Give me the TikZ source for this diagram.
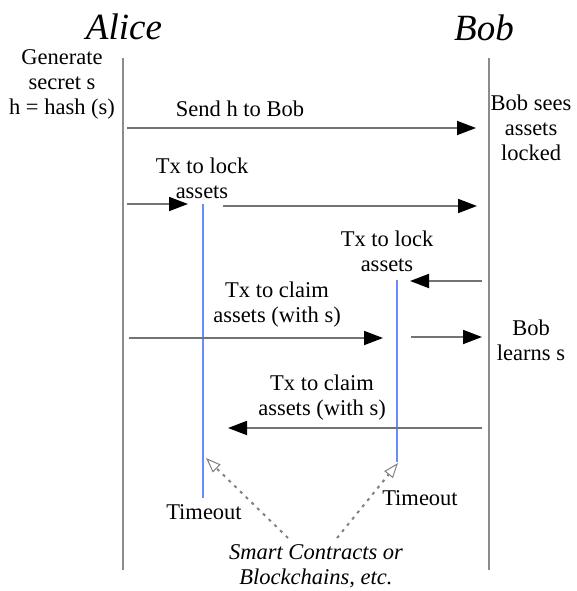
\documentclass[tikz,border=0pt]{standalone}
\usepackage{fontspec}
\setmainfont{Liberation Serif}
\usetikzlibrary{arrows.meta}
\definecolor{lockblue}{RGB}{105,140,250}
\begin{document}
\begin{tikzpicture}[x=1pt,y=-1pt,
 lbl/.style={font=\fontsize{22.5}{25}\selectfont, align=center, inner sep=0pt},
 ttl/.style={font=\fontsize{37}{40}\selectfont\itshape, inner sep=0pt},
 life/.style={draw=gray!90, line width=2.4pt},
 msg/.style={draw=gray!90!black, line width=1.8pt, -{Triangle[length=19pt,width=14pt,color=black]}},
 lockline/.style={draw=lockblue, line width=1.6pt},
 dots/.style={draw=gray, line width=2pt, dash pattern=on 3pt off 5pt, -{Triangle[open,length=15pt,width=11pt,line width=1pt]}}
]
\useasboundingbox (0,0) rectangle (576,591);
% titles
\node[ttl] (alice) at (124,27) {Alice};
\node[ttl] (bob) at (484,28) {Bob};
% lifelines
\coordinate (aTop) at (123,58);
\coordinate (aBot) at (123,570);
\coordinate (bTop) at (489,58);
\coordinate (bBot) at (489,570);
\draw[life] (aTop) -- (aBot);
\draw[life] (bTop) -- (bBot);
% side notes
\node[lbl] (gen) at (62,84) {Generate\\secret s\\h = hash (s)};
\node[lbl] (sees) at (531,128) {Bob sees\\assets\\locked};
\node[lbl] (learns) at (531,340) {Bob\\learns s};
% message 1
\coordinate (m1s) at (127,128);
\coordinate (m1e) at (476,128);
\draw[msg] (m1s) -- (m1e);
\node[lbl] (l1) at (240,109) {Send h to Bob};
% message 2
\coordinate (m2s) at (127,204);
\coordinate (m2m) at (188,204);
\coordinate (m2n) at (223,206);
\coordinate (m2e) at (477,206);
\draw[msg] (m2s) -- (m2m);
\draw[msg] (m2n) -- (m2e);
\node[lbl] (l2) at (202,178) {Tx to lock\\assets};
% locks (blue)
\coordinate (aLockT) at (203,204);
\coordinate (aLockB) at (203,498);
\coordinate (bLockT) at (397,280);
\coordinate (bLockB) at (397,462);
\draw[lockline] (aLockT) -- (aLockB);
\draw[lockline] (bLockT) -- (bLockB);
% message 3
\coordinate (m3s) at (482,281);
\coordinate (m3e) at (410,281);
\draw[msg] (m3s) -- (m3e);
\node[lbl] (l3) at (387,251) {Tx to lock\\assets};
% message 4
\coordinate (m4s) at (129,338);
\coordinate (m4m) at (383,338);
\coordinate (m4n) at (411,337);
\coordinate (m4e) at (482,337);
\draw[msg] (m4s) -- (m4m);
\draw[msg] (m4n) -- (m4e);
\node[lbl] (l4) at (277,305) {Tx to claim\\assets (with s)};
% message 5
\coordinate (m5s) at (482,428);
\coordinate (m5e) at (228,428);
\draw[msg] (m5s) -- (m5e);
\node[lbl] (l5) at (322,398) {Tx to claim\\assets (with s)};
% timeouts
\node[lbl] (to1) at (204,512) {Timeout};
\node[lbl] (to2) at (420,498) {Timeout};
% smart contracts
\node[lbl,font=\fontsize{22.5}{25}\selectfont\itshape] (sc) at (316,566) {Smart Contracts or\\Blockchains, etc.};
\coordinate (d1s) at (288,538);
\coordinate (d1e) at (206,458);
\coordinate (d2s) at (337,538);
\coordinate (d2e) at (398,463);
\draw[dots] (d1s) -- (d1e);
\draw[dots] (d2s) -- (d2e);
\end{tikzpicture}
\end{document}
